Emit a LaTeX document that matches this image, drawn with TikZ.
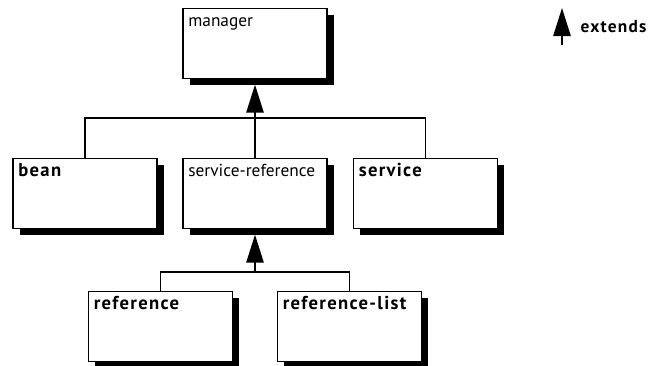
\documentclass[tikz,border=0pt]{standalone}
\usepackage{fontspec}
\setmainfont{PT Sans}
\newfontface\lblbold{PT Sans Bold}[LetterSpace=7]
\usetikzlibrary{positioning,shadows,arrows.meta}

\begin{document}
\begin{tikzpicture}[x=0.75pt, y=-0.75pt,
    elem/.style={draw, line width=1.2pt, fill=white, minimum width=108pt, text width=100pt, align=left,
        inner xsep=4pt, inner ysep=2.5pt, text height=11pt, text depth=36.5pt, font=\fontsize{13}{15}\selectfont,
        drop shadow={shadow xshift=5pt, shadow yshift=-5pt, fill=black, opacity=1}},
    bold/.style={font=\fontsize{14}{15}\selectfont\lblbold},
    link/.style={line width=1.2pt},
    ext/.style={line width=1.2pt, -{Triangle[width=13pt, length=21pt]}}
]
\useasboundingbox (0,0) rectangle (654,365);

% top level
\node[elem] (manager) at (255,43.5) {manager};

% second row
\node[elem, bold] (bean) at (85,193.5) {bean};
\node[elem] (sref) at (255,193.5) {service-reference};
\node[elem, bold] (service) at (425.5,193.5) {service};

% third row
\node[elem, bold] (ref) at (160.5,326.5) {reference};
\node[elem, bold] (reflist) at (349.5,326.5) {reference-list};

% inheritance
\coordinate (j1) at (255,118);
\draw[link] (bean.north) |- (j1) -| (service.north);
\draw[link] (sref.north) -- (j1);
\draw[ext, shorten >=4pt] (j1) -- (manager.south);

\coordinate (j2) at (255,272);
\draw[link] (ref.north) |- (j2) -| (reflist.north);
\draw[ext, shorten >=4pt] (j2) -- (sref.south);

% legend
\coordinate (legtail) at (562,45);
\coordinate (leghead) at (562,8);
\draw[ext] (legtail) -- (leghead);
\node[anchor=west, font=\fontsize{13}{14}\selectfont\lblbold] (legtext) at (576,27) {extends};
\end{tikzpicture}
\end{document}
